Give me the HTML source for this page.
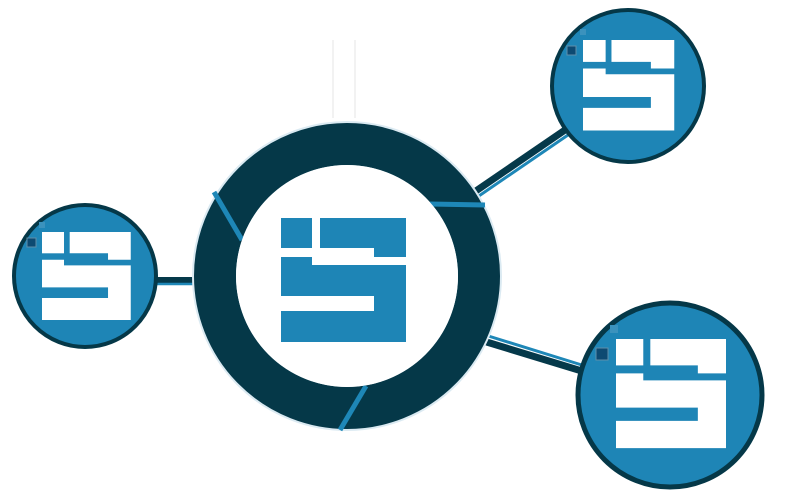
<!DOCTYPE html>
<html><head><meta charset="utf-8"><style>html,body{margin:0;padding:0;background:#fff;}svg{display:block}</style></head>
<body>
<svg width="800" height="500" viewBox="0 0 800 500" xmlns="http://www.w3.org/2000/svg">
<defs>
<g id="logoW">
<rect x="0" y="0" width="31" height="30"/>
<polygon points="39,0 125,0 125,39 93,39 93,30 39,30"/>
<polygon points="0,39 31,39 31,47 125,47 125,124 0,124 0,93 93,93 93,78 0,78"/>
</g>
</defs>
<!-- faint top lines -->
<line x1="333" y1="40" x2="333" y2="118" stroke="#eeeeee" stroke-width="1.5"/>
<line x1="355" y1="40" x2="355" y2="118" stroke="#eeeeee" stroke-width="1.5"/>
<!-- connectors -->
<line x1="470" y1="195" x2="565" y2="130" stroke="#05394a" stroke-width="7"/>
<line x1="473" y1="200" x2="568" y2="135" stroke="#1e87b7" stroke-width="3"/>
<line x1="150" y1="280" x2="200" y2="280" stroke="#05394a" stroke-width="6"/>
<line x1="150" y1="284" x2="200" y2="284" stroke="#1e87b7" stroke-width="2.5"/>
<line x1="480" y1="340" x2="585" y2="372" stroke="#05394a" stroke-width="7"/>
<line x1="482" y1="334" x2="585" y2="366" stroke="#1e87b7" stroke-width="3"/>
<!-- center ring -->
<circle cx="347" cy="276" r="132" fill="none" stroke="#dbeaf2" stroke-width="46"/>
<circle cx="347" cy="276" r="132" fill="none" stroke="#053848" stroke-width="42"/>
<line x1="214" y1="192" x2="242" y2="240" stroke="#1e87b7" stroke-width="5"/>
<line x1="430" y1="204" x2="485" y2="205" stroke="#1e87b7" stroke-width="5"/>
<line x1="340" y1="430" x2="366" y2="386" stroke="#1e87b7" stroke-width="5"/>
<circle cx="347" cy="276" r="111" fill="#fff"/>
<use href="#logoW" transform="translate(281,218)" fill="#1e85b6"/>
<!-- top right node -->
<circle cx="628" cy="86" r="76" fill="#1e85b6" stroke="#053848" stroke-width="4"/>
<use href="#logoW" transform="translate(583,40) scale(0.73)" fill="#fff"/>
<rect x="567" y="46" width="9" height="9" fill="#0d4a72" stroke="#5f8fa9" stroke-width="1"/>
<rect x="580" y="29" width="6" height="6" fill="#3b92bd"/>
<!-- left node -->
<circle cx="85" cy="276" r="71" fill="#1e85b6" stroke="#053848" stroke-width="4"/>
<use href="#logoW" transform="translate(42,232) scale(0.71)" fill="#fff"/>
<rect x="27" y="238" width="9" height="9" fill="#0d4a72" stroke="#5f8fa9" stroke-width="1"/>
<rect x="39" y="222" width="6" height="6" fill="#3b92bd"/>
<!-- bottom right node -->
<circle cx="670" cy="395" r="92" fill="#1e85b6" stroke="#053848" stroke-width="5"/>
<use href="#logoW" transform="translate(616,339) scale(0.88)" fill="#fff"/>
<rect x="596" y="348" width="12" height="12" fill="#0d4a72" stroke="#5f8fa9" stroke-width="1"/>
<rect x="610" y="325" width="8" height="8" fill="#3b92bd"/>
</svg>
</body></html>
